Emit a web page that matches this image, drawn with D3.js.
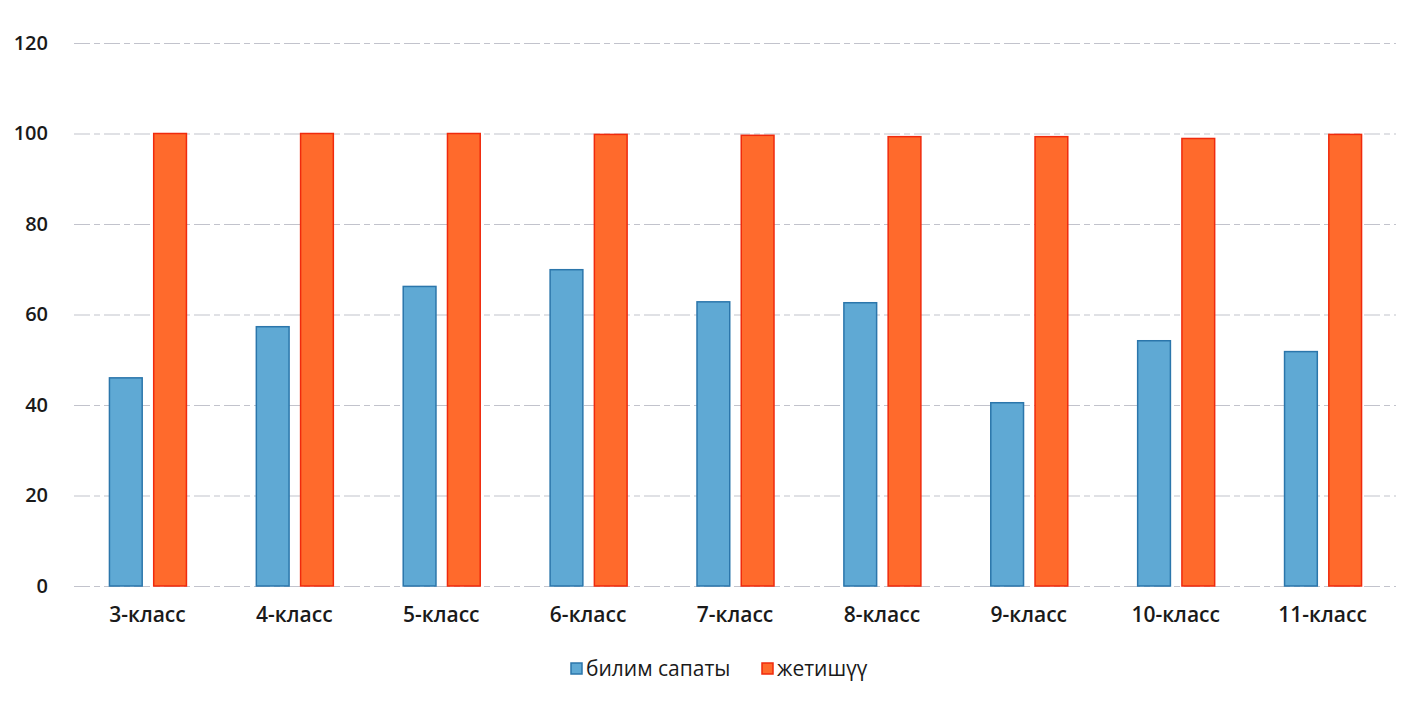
<!DOCTYPE html>
<html>
<head>
  <meta charset="utf-8">
  <title>Билим сапаты жана жетишүү</title>
  <style>
    body { margin: 0; background: #fff; }
    text { font-family: "Open Sans", sans-serif; fill: #1a1a1a; }
  </style>
</head>
<body>
  <div id="chart"></div>
  <script src="https://cdn.jsdelivr.net/npm/d3@7"></script>
  <script>
    // data
    let classes = ['3-класс', '4-класс', '5-класс', '6-класс', '7-класс', '8-класс', '9-класс', '10-класс', '11-класс'];
    let quality = [46, 57.3, 66.2, 69.9, 62.8, 62.6, 40.5, 54.2, 51.8];
    let success = [100, 100, 100, 99.8, 99.6, 99.3, 99.3, 98.9, 99.8];
    let seriesNames = ['билим сапаты', 'жетишүү'];
    let yTicks = [0, 20, 40, 60, 80, 100, 120];

    function translate(x, y) {
      return 'translate(' + x + ',' + y + ')';
    }

    let svgWidth = 1418, svgHeight = 709;
    let margin = {top: 43, right: 22, bottom: 123, left: 74};
    let width = svgWidth - margin.left - margin.right;
    let height = svgHeight - margin.top - margin.bottom;

    let svg = d3.select('#chart')
      .append('svg')
        .attr('width', svgWidth)
        .attr('height', svgHeight);

    let g = svg.append('g').attr('transform', translate(margin.left, margin.top));

    let x = d3.scaleBand().domain(classes).range([0, width]).paddingInner(0).paddingOuter(0);
    let xSub = d3.scaleBand().domain(seriesNames).range([0, 77]).paddingInner(0.26);
    let y = d3.scaleLinear().domain([0, 120]).range([height, 0]);

    let fills = ['#5fa9d4', '#ff6a2c'];
    let strokes = ['#2b76ab', '#f02a0c'];

    // grid
    g.append('g')
      .call(d3.axisLeft(y).tickValues(yTicks).tickSize(-width).tickFormat(''))
      .call(s => s.select('.domain').remove())
      .selectAll('line')
        .attr('stroke', '#c2c3cc')
        .attr('stroke-dasharray', '16,4,6,4')
        .attr('stroke-width', 1.2);

    // y labels
    g.append('g')
      .call(d3.axisLeft(y).tickValues(yTicks).tickSize(0).tickPadding(26))
      .call(s => s.select('.domain').remove())
      .selectAll('text')
        .style('font-size', '20px')
        .style('font-weight', 600)
        .attr('fill', '#1a1a1a');

    let groups = g.selectAll('.grp')
      .data(classes.map((c, i) => ({c: c, vals: [quality[i], success[i]]})))
      .enter().append('g')
        .attr('class', 'grp')
        .attr('transform', d => translate(x(d.c) + x.bandwidth() / 2 - 38, 0));

    groups.selectAll('rect')
      .data(d => d.vals.map((v, k) => ({k: k, v: v})))
      .enter().append('rect')
        .attr('x', d => xSub(seriesNames[d.k]))
        .attr('width', xSub.bandwidth())
        .attr('y', d => y(d.v))
        .attr('height', d => height - y(d.v))
        .attr('fill', d => fills[d.k])
        .attr('stroke', d => strokes[d.k])
        .attr('stroke-width', 1.5);

    // x labels
    g.append('g')
      .attr('transform', translate(0, height))
      .call(d3.axisBottom(x).tickSize(0).tickPadding(21))
      .call(s => s.select('.domain').remove())
      .selectAll('text')
        .style('font-size', '21px')
        .style('font-weight', 600)
        .attr('fill', '#1a1a1a');

    // legend
    let legend = svg.append('g').attr('transform', translate(571, 663));
    let legX = [0, 191];
    seriesNames.forEach((n, k) => {
      let lg = legend.append('g').attr('transform', translate(legX[k], 0));
      lg.append('rect')
        .attr('width', 11).attr('height', 11)
        .attr('fill', fills[k]).attr('stroke', strokes[k]).attr('stroke-width', 1.5);
      lg.append('text')
        .attr('x', 15).attr('y', 6).attr('dy', '0.35em')
        .style('font-size', '21px')
        .style('font-weight', 500)
        .text(n);
    });
  </script>
</body>
</html>
